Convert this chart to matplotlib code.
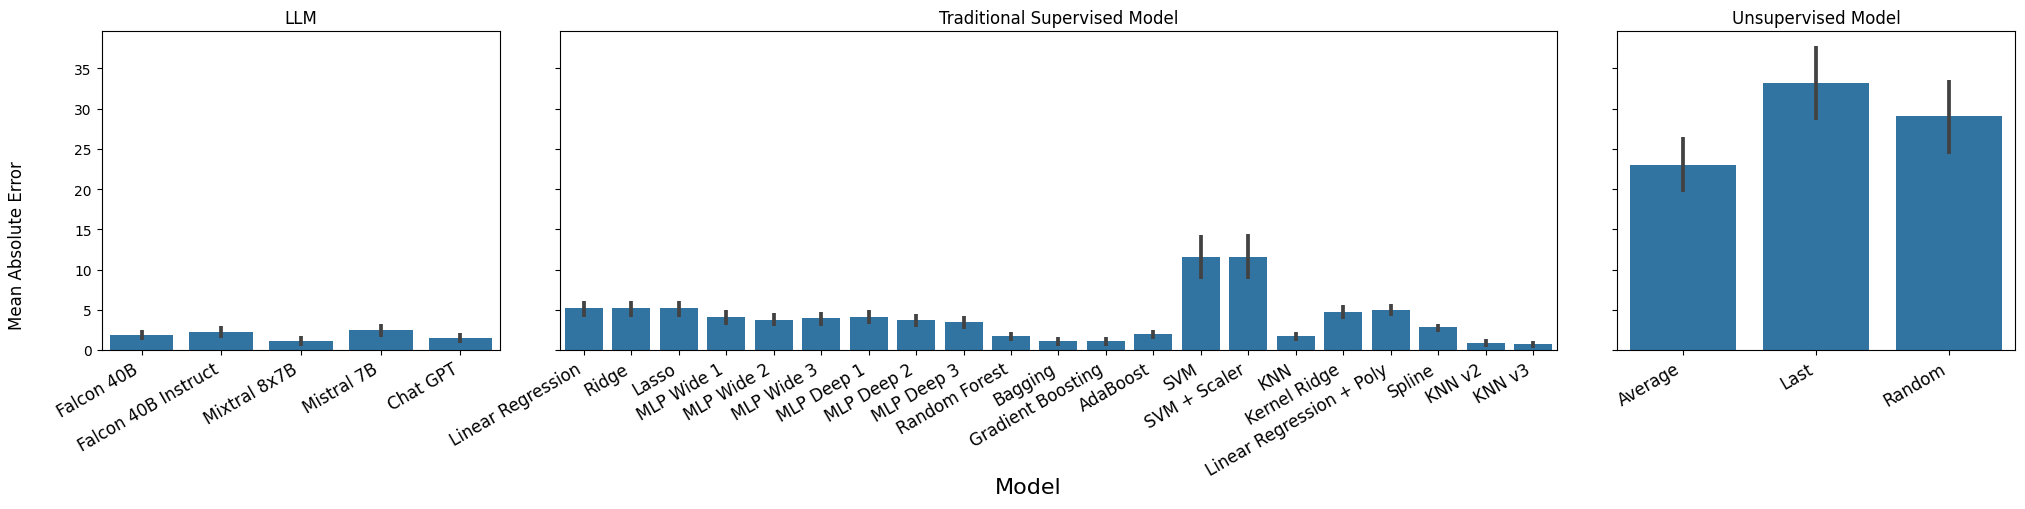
import numpy as np
import matplotlib
matplotlib.use("Agg")
import matplotlib.pyplot as plt

# LLM
llm_models = ["Falcon 40B", "Falcon 40B Instruct", "Mixtral 8x7B", "Mistral 7B", "Chat GPT"]
llm_mae = [1.86, 2.24, 1.12, 2.48, 1.49]
llm_lo = [1.24, 1.49, 0.50, 1.61, 0.87]
llm_hi = [2.48, 2.98, 1.74, 3.23, 2.11]

# Traditional Supervised Model
sup_models = ["Linear Regression", "Ridge", "Lasso", "MLP Wide 1", "MLP Wide 2", "MLP Wide 3",
              "MLP Deep 1", "MLP Deep 2", "MLP Deep 3", "Random Forest", "Bagging",
              "Gradient Boosting", "AdaBoost", "SVM", "SVM + Scaler", "KNN", "Kernel Ridge",
              "Linear Regression + Poly", "Spline", "KNN v2", "KNN v3"]
sup_mae = [5.22, 5.22, 5.22, 4.10, 3.73, 3.98, 4.10, 3.73, 3.48, 1.74, 1.12,
           1.12, 1.99, 11.55, 11.55, 1.74, 4.72, 4.97, 2.86, 0.87, 0.75]
sup_lo = [4.10, 4.10, 4.10, 3.11, 2.98, 2.98, 3.23, 2.86, 2.61, 1.12, 0.50,
          0.50, 1.37, 8.82, 8.82, 1.12, 3.85, 4.22, 2.24, 0.37, 0.25]
sup_hi = [6.09, 6.09, 6.09, 4.97, 4.60, 4.72, 4.97, 4.47, 4.22, 2.24, 1.61,
          1.61, 2.48, 14.29, 14.41, 2.24, 5.59, 5.71, 3.23, 1.37, 1.12]

# Unsupervised Model
uns_models = ["Average", "Last", "Random"]
uns_mae = [22.98, 33.17, 29.07]
uns_lo = [19.63, 28.57, 24.35]
uns_hi = [26.46, 37.76, 33.54]

panels = [
    ("LLM", llm_models, llm_mae, llm_lo, llm_hi),
    ("Traditional Supervised Model", sup_models, sup_mae, sup_lo, sup_hi),
    ("Unsupervised Model", uns_models, uns_mae, uns_lo, uns_hi),
]

bar_color = "#3274a1"
err_color = "#424242"

fig, axes = plt.subplots(1, 3, figsize=(20.25, 5.1), dpi=100, sharey=True,
                         gridspec_kw={"width_ratios": [2, 5, 2]})
fig.subplots_adjust(left=0.0502, right=0.9952, top=0.9367, bottom=0.3118, wspace=0.1)

for ax, (title, names, mae, lo, hi) in zip(axes, panels):
    x = np.arange(len(names))
    ax.bar(x, mae, width=0.8, color=bar_color)
    ax.vlines(x, lo, hi, color=err_color, linewidth=2.7)
    ax.set_xlim(-0.5, len(names) - 0.5)
    ax.set_xticks(x)
    ax.set_xticklabels(names, rotation=30, ha="right", fontsize=12)
    ax.set_title(title, fontsize=12)

axes[0].set_ylim(0, 39.6)
axes[0].set_yticks([0, 5, 10, 15, 20, 25, 30, 35])

fig.text(0.508, 0.043, "Model", fontsize=16, ha="center", va="center")
fig.text(0.0085, 0.519, "Mean Absolute Error", fontsize=12, rotation=90, ha="center", va="center")

fig.savefig("out.png", dpi=100)
